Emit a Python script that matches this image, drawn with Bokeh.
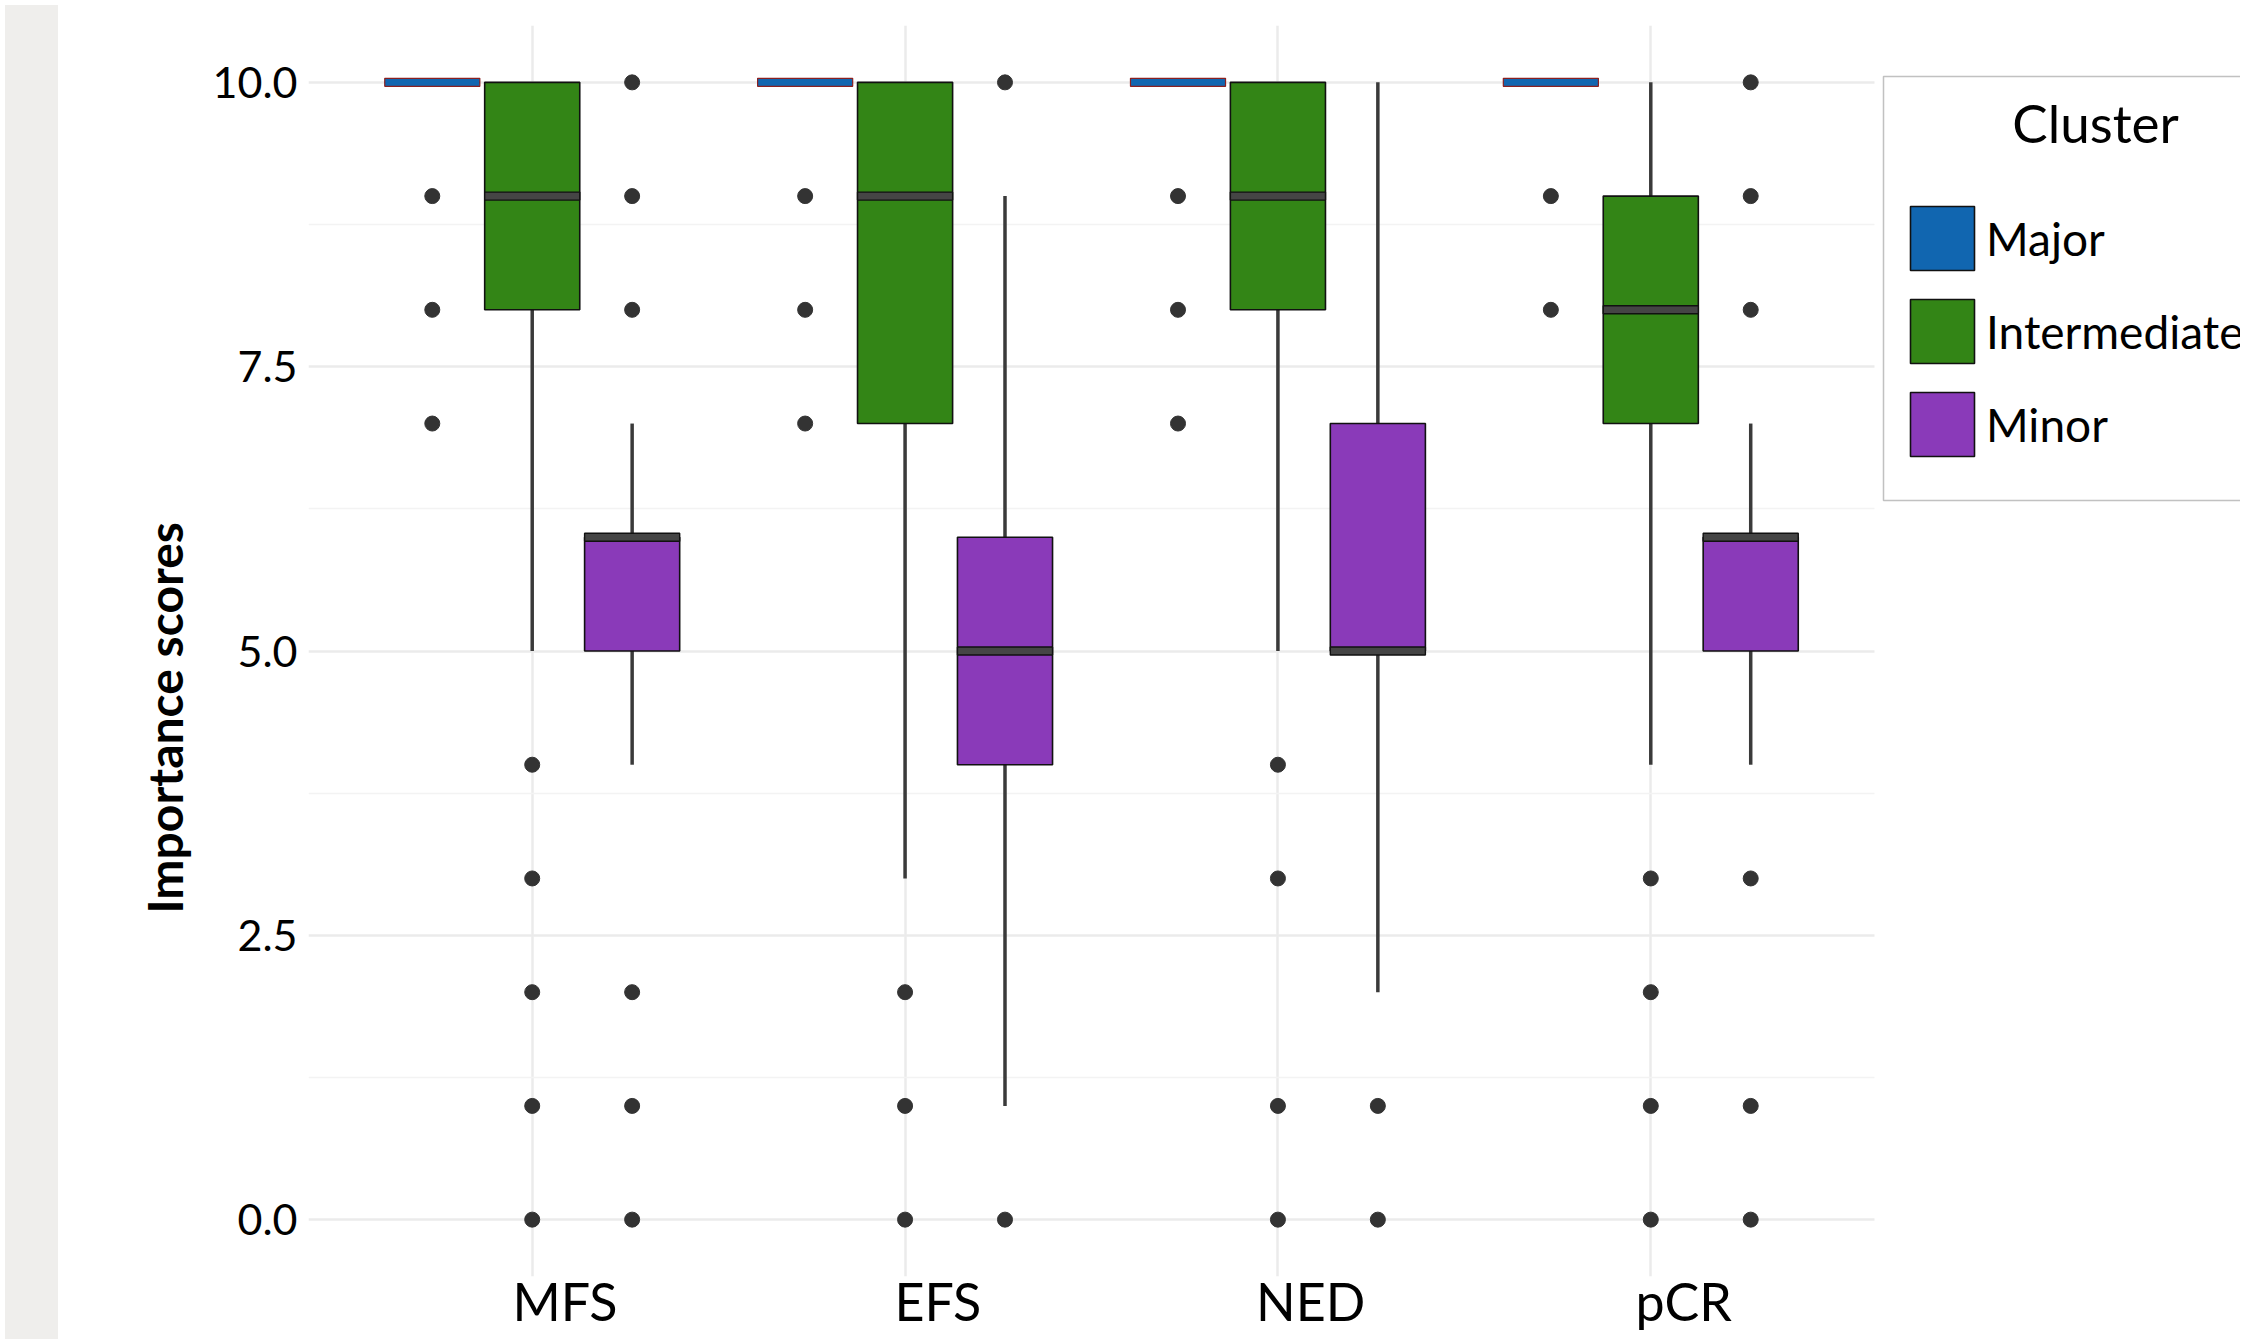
from bokeh.plotting import figure
from bokeh.models import (Range1d, FixedTicker, PrintfTickFormatter, Legend, LegendItem,
                          Label, Div, ColumnDataSource, BoxAnnotation, Title)
from bokeh.layouts import row
from bokeh.embed import file_html
from bokeh.resources import INLINE

# ---------------- data ----------------
categories = ["MFS", "EFS", "NED", "pCR"]
clusters = ["Major", "Intermediate", "Minor"]
colors = ["#1166b0", "#338516", "#8a3ab9"]

q1 = {"Major": [10, 10, 10, 10], "Intermediate": [8, 7, 8, 7], "Minor": [5, 4, 5, 5]}
median = {"Major": [10, 10, 10, 10], "Intermediate": [9, 9, 9, 8], "Minor": [6, 5, 5, 6]}
q3 = {"Major": [10, 10, 10, 10], "Intermediate": [10, 10, 10, 9], "Minor": [6, 6, 7, 6]}
whisker_low = {"Major": [10, 10, 10, 10], "Intermediate": [5, 3, 5, 4], "Minor": [4, 1, 2, 4]}
whisker_high = {"Major": [10, 10, 10, 10], "Intermediate": [10, 10, 10, 10], "Minor": [7, 9, 10, 7]}
outliers = {
    "Major": [[9, 8, 7], [9, 8, 7], [9, 8, 7], [9, 8]],
    "Intermediate": [[4, 3, 2, 1, 0], [2, 1, 0], [4, 3, 1, 0], [3, 2, 1, 0]],
    "Minor": [[10, 9, 8, 2, 1, 0], [10, 0], [1, 0], [10, 9, 8, 3, 1, 0]],
}
y_ticks = [0, 2.5, 5, 7.5, 10]
y_minor = [1.25, 3.75, 6.25, 8.75]

# ---------------- layout constants ----------------
FONT = "Lato"
dodge = {"Major": -0.268, "Intermediate": 0.0, "Minor": 0.268}
box_w = 0.255
label_shift = 0.088
cat_pos = list(range(1, len(categories) + 1))

W, H = 2177, 1334
BL, BT = 245, 25
panel_start, panel_end = 0.4, 4.6
panel_px = 1566                       # width of the data panel in px
frame_w = W - BL
x_end = panel_start + (panel_end - panel_start) * frame_w / panel_px

p = figure(width=W, height=H, output_backend="svg", toolbar_location=None,
           x_range=Range1d(panel_start, x_end), y_range=Range1d(-0.5, 10.5),
           min_border_left=BL, min_border_right=0, min_border_top=BT, min_border_bottom=50)
p.outline_line_color = None
p.background_fill_color = "white"
p.border_fill_color = "white"

# grids
p.xgrid[0].ticker = FixedTicker(ticks=cat_pos)
p.xgrid.grid_line_color = "#ebebeb"
p.xgrid.grid_line_width = 2.5
p.ygrid.grid_line_color = "#ebebeb"
p.ygrid.grid_line_width = 2.5
p.ygrid.minor_grid_line_color = "#f3f3f3"
p.ygrid.minor_grid_line_width = 1.5
yg = p.ygrid[0]
if "cross_bounds" in yg.properties():
    yg.cross_bounds = (panel_start, panel_end)
else:
    cover = BoxAnnotation(left=panel_end, fill_color="white", fill_alpha=1.0,
                          line_color=None, level="underlay")
    p.add_layout(cover)

# axes
p.xaxis.ticker = FixedTicker(ticks=[c + label_shift for c in cat_pos])
p.xaxis.major_label_overrides = {c + label_shift: name for c, name in zip(cat_pos, categories)}
p.xaxis.major_label_text_font = FONT
p.xaxis.major_label_text_font_size = "52px"
p.xaxis.major_label_text_color = "#000000"
p.xaxis.major_label_standoff = -7
p.yaxis.ticker = FixedTicker(ticks=y_ticks, minor_ticks=y_minor)
p.yaxis.formatter = PrintfTickFormatter(format="%.1f")
p.yaxis.major_label_text_font = FONT
p.yaxis.major_label_text_font_size = "43px"
p.yaxis.major_label_text_color = "#000000"
p.yaxis.major_label_standoff = 11
for ax in (p.xaxis, p.yaxis):
    ax.axis_line_color = None
    ax.major_tick_line_color = None
    ax.minor_tick_line_color = None
    ax.major_tick_out = 0
    ax.major_tick_in = 0
    ax.minor_tick_out = 0

# y axis title (as a side title so that it can be offset like the reference)
ytitle = Title(text="Importance scores", text_font=FONT, text_font_style="bold",
               text_font_size="48px", text_color="#000000", align="left",
               offset=363, standoff=34)
p.add_layout(ytitle, "left")

box_renderers = {}
for cl, col in zip(clusters, colors):
    xs = [c + dodge[cl] for c in cat_pos]
    src = ColumnDataSource(dict(x=xs, q1=q1[cl], q3=q3[cl], med=median[cl],
                                lo=whisker_low[cl], hi=whisker_high[cl]))
    # whiskers
    p.segment(x0="x", y0="q3", x1="x", y1="hi", source=src, line_color="#3a3a3a", line_width=3.5)
    p.segment(x0="x", y0="q1", x1="x", y1="lo", source=src, line_color="#3a3a3a", line_width=3.5)
    # outliers
    ox, oy = [], []
    for c, vals in zip(cat_pos, outliers[cl]):
        for v in vals:
            ox.append(c + dodge[cl])
            oy.append(v)
    p.scatter(ox, oy, size=15, fill_color="#333333", line_color="#333333")
    # box
    box_renderers[cl] = p.vbar(x="x", width=box_w, top="q3", bottom="q1", source=src,
                               fill_color=col, line_color="#111111", line_width=1.6)
    # median band
    if cl == "Major":
        p.rect(x="x", y="med", width=box_w, height=8, height_units="screen", source=src,
               fill_color=col, line_color="#8b2020", line_width=1.2)
    else:
        p.rect(x="x", y="med", width=box_w, height=8, height_units="screen", source=src,
               fill_color="#454545", line_color="#111111", line_width=1.4)

# legend frame and title (frame-relative screen coordinates)
legend_box = BoxAnnotation(left=1575, right=2100, top=1200, bottom=776,
                           left_units="screen", right_units="screen",
                           top_units="screen", bottom_units="screen",
                           fill_alpha=0, line_color="#333333", line_width=1.5)
p.add_layout(legend_box)
title = Label(x=1787, y=1154, x_units="screen", y_units="screen", text="Cluster",
              text_font=FONT, text_font_size="53px", text_color="#000000",
              text_align="center", text_baseline="alphabetic")
p.add_layout(title)

legend = Legend(items=[LegendItem(label=cl, renderers=[box_renderers[cl]]) for cl in clusters],
                location=(1594, 812), orientation="vertical",
                glyph_width=80, glyph_height=80, label_height=80, spacing=13,
                padding=0, margin=0, label_standoff=4,
                label_text_font=FONT, label_text_font_size="46px", label_text_color="#000000",
                border_line_color=None, background_fill_alpha=0)
p.add_layout(legend)

strip = Div(text="", width=53, height=H, styles={"background-color": "#efeeec"})
layout = row(strip, p, spacing=0)

open("out.html", "w").write(file_html(layout, INLINE))
